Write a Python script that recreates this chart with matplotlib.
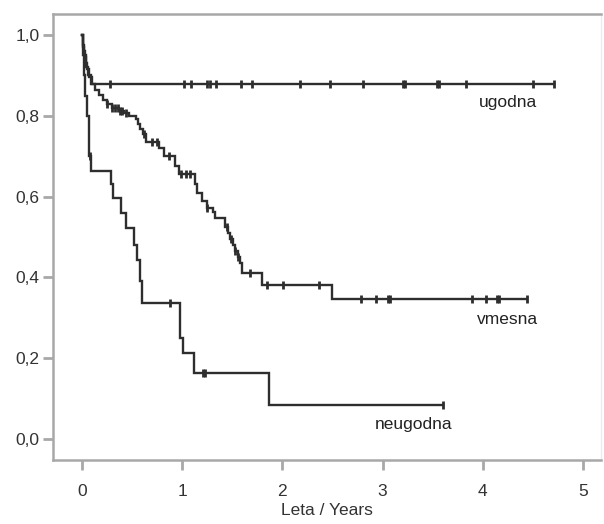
import numpy as np
import matplotlib
matplotlib.use("Agg")
import matplotlib.pyplot as plt

plt.rcParams['font.family'] = ['Liberation Sans', 'DejaVu Sans']

# ---- data ----
ugodna_t = [0.0, 0.01, 0.02, 0.04, 0.06, 0.09]
ugodna_s = [1.0, 0.97, 0.95, 0.92, 0.90, 0.879]
ugodna_cens = [0.28, 1.02, 1.09, 1.25, 1.28, 1.34, 1.59, 1.70, 2.18, 2.48,
               2.80, 3.20, 3.22, 3.54, 3.56, 3.83, 4.50, 4.71]

vmesna_t = [0.0, 0.01, 0.02, 0.03, 0.04, 0.05, 0.07, 0.10, 0.13, 0.17, 0.21,
            0.25, 0.30, 0.37, 0.42, 0.47, 0.54, 0.56, 0.58, 0.61, 0.64, 0.77,
            0.82, 0.93, 0.97, 1.13, 1.15, 1.20, 1.25, 1.31, 1.33, 1.43, 1.46,
            1.48, 1.51, 1.53, 1.56, 1.58, 1.60, 1.80, 2.50]
vmesna_s = [1.0, 0.975, 0.96, 0.945, 0.93, 0.915, 0.895, 0.878, 0.865, 0.852,
            0.84, 0.828, 0.82, 0.812, 0.806, 0.80, 0.792, 0.78, 0.768, 0.755,
            0.735, 0.72, 0.700, 0.675, 0.655, 0.630, 0.61, 0.59, 0.573, 0.562,
            0.547, 0.525, 0.51, 0.495, 0.48, 0.465, 0.45, 0.435, 0.411, 0.381,
            0.347]
vmesna_cens = [0.25, 0.30, 0.33, 0.36, 0.38, 0.40, 0.44, 0.62, 0.70, 0.75,
               0.87, 0.99, 1.04, 1.08, 1.25, 1.45, 1.49, 1.53, 1.56, 1.68,
               1.85, 2.01, 2.37, 2.78, 2.93, 3.05, 3.07, 3.89, 4.03, 4.14,
               4.16, 4.44]

neugodna_t = [0.0, 0.01, 0.02, 0.03, 0.05, 0.07, 0.09, 0.29, 0.31, 0.39,
              0.44, 0.52, 0.55, 0.58, 0.60, 0.98, 1.01, 1.12, 1.87]
neugodna_s = [1.0, 0.95, 0.90, 0.85, 0.80, 0.70, 0.663, 0.63, 0.597, 0.56,
              0.522, 0.48, 0.443, 0.39, 0.337, 0.25, 0.213, 0.163, 0.084]
neugodna_cens = [0.08, 0.88, 1.21, 1.23, 3.60]

labels = ["ugodna", "vmesna", "neugodna"]
label_pos = [(4.25, 0.832), (4.25, 0.297), (3.31, 0.037)]

x_ticks = [0, 1, 2, 3, 4, 5]
y_ticks = [0.0, 0.2, 0.4, 0.6, 0.8, 1.0]
y_ticklabels = ["0,0", "0,2", "0,4", "0,6", "0,8", "1,0"]
x_label = "Leta / Years"

# ---- figure ----
fig = plt.figure(figsize=(6.04, 5.24), dpi=100)
ax = fig.add_axes([53/604, 1-460/524, (601-53)/604, (460-14)/524])

line_col = "#2e2e2e"
series = [(ugodna_t, ugodna_s, ugodna_cens),
          (vmesna_t, vmesna_s, vmesna_cens),
          (neugodna_t, neugodna_s, neugodna_cens)]

for (t, s, c), lab, pos in zip(series, labels, label_pos):
    t = np.asarray(t); s = np.asarray(s); c = np.asarray(c)
    end = max(t[-1], c.max())
    tt = np.append(t, end)
    ss = np.append(s, s[-1])
    ax.step(tt, ss, where='post', color=line_col, lw=1.7, solid_joinstyle='miter')
    idx = np.searchsorted(t, c, side='right') - 1
    ax.plot(c, s[idx], ls='none', marker='|', ms=5.5, mew=2.0, color=line_col)
    ax.text(pos[0], pos[1], lab, fontsize=12.5, color="#222222",
            ha='center', va='center')

ax.set_xlim(-0.289, 5.18)
ax.set_ylim(-0.052, 1.052)
ax.set_xticks(x_ticks)
ax.set_xticklabels([str(v) for v in x_ticks])
ax.set_yticks(y_ticks)
ax.set_yticklabels(y_ticklabels)
ax.set_xlabel(x_label, fontsize=12.5, color="#333333", labelpad=3)

spine_col = "#a8a8a8"
for side in ["left", "bottom", "top"]:
    ax.spines[side].set_color(spine_col)
    ax.spines[side].set_linewidth(1.8)
ax.spines["right"].set_color("#ececec")
ax.spines["right"].set_linewidth(1.0)

ax.tick_params(axis='y', direction='out', length=7, width=2.0, color=spine_col,
               labelsize=12.5, labelcolor="#333333", pad=2.5)
ax.tick_params(axis='x', direction='out', length=7, width=2.0, color=spine_col,
               labelsize=12.5, labelcolor="#333333", pad=10)

fig.savefig("out.png", dpi=100)
